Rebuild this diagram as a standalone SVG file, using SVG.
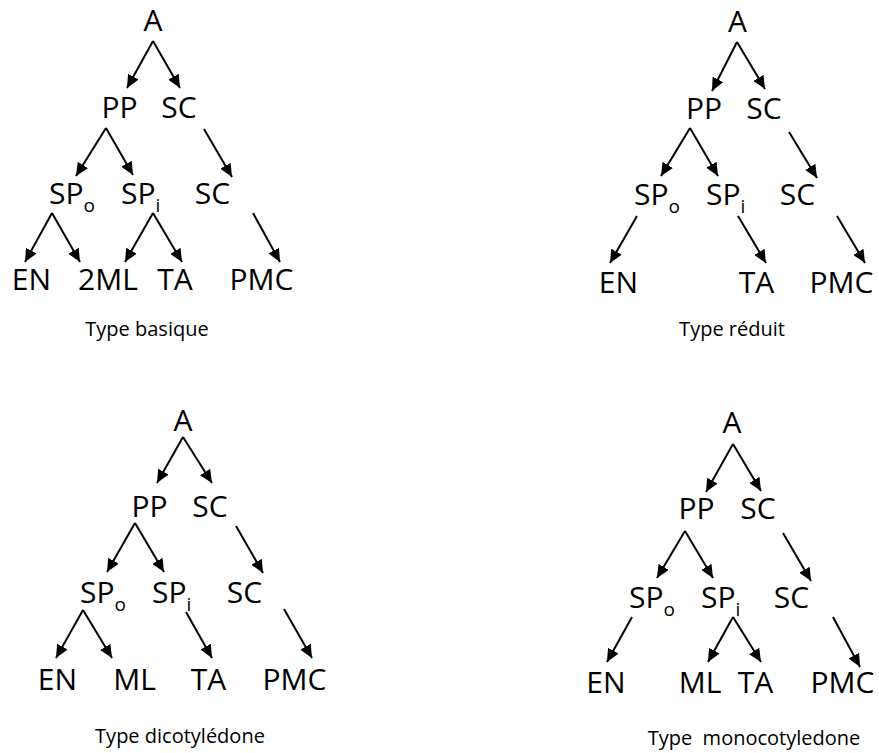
<svg xmlns="http://www.w3.org/2000/svg" width="879" height="753" viewBox="0 0 879 753">
<style>
.t{font-family:"Open Sans","Liberation Sans",sans-serif;font-size:30px;fill:#000}
.m{text-anchor:middle}
.s{font-size:19px}
.c{font-family:"Open Sans","Liberation Sans",sans-serif;font-size:20px;fill:#000;text-anchor:middle;white-space:pre}
.e{stroke:#000;stroke-width:2;fill:none;marker-end:url(#ah)}
</style>
<defs>
<marker id="ah" markerUnits="userSpaceOnUse" markerWidth="14" markerHeight="12" viewBox="0 0 14 12" refX="13" refY="6" orient="auto">
<path d="M0,0 L13,6 L0,12 Z" fill="#000"/>
</marker>
</defs>
<rect width="879" height="753" fill="#fff"/>

<g id="basique">
<g id="b-A"><text class="t m" x="153" y="31">A</text></g>
<g id="b-PP"><text class="t m" x="119.5" y="118">PP</text></g>
<g id="b-SC1"><text class="t m" x="179" y="118">SC</text></g>
<g id="b-SPo"><text class="t" x="49" y="204">SP<tspan class="s" dy="8">o</tspan></text></g>
<g id="b-SPi"><text class="t" x="121" y="204">SP<tspan class="s" dy="8">i</tspan></text></g>
<g id="b-SC2"><text class="t m" x="212.5" y="204">SC</text></g>
<g id="b-EN"><text class="t m" x="31.5" y="290">EN</text></g>
<g id="b-2ML"><text class="t m" x="108" y="290">2ML</text></g>
<g id="b-TA"><text class="t m" x="175" y="290">TA</text></g>
<g id="b-PMC"><text class="t m" x="261.5" y="290">PMC</text></g>
<g id="b-cap"><text class="c" x="147" y="336">Type basique</text></g>
</g>

<g id="reduit">
<g id="r-A"><text class="t m" x="737.5" y="32">A</text></g>
<g id="r-PP"><text class="t m" x="704" y="119">PP</text></g>
<g id="r-SC1"><text class="t m" x="764" y="119">SC</text></g>
<g id="r-SPo"><text class="t" x="634" y="205">SP<tspan class="s" dy="8">o</tspan></text></g>
<g id="r-SPi"><text class="t" x="706" y="205">SP<tspan class="s" dy="8">i</tspan></text></g>
<g id="r-SC2"><text class="t m" x="797.5" y="205">SC</text></g>
<g id="r-EN"><text class="t m" x="618.5" y="293">EN</text></g>
<g id="r-TA"><text class="t m" x="756.5" y="293">TA</text></g>
<g id="r-PMC"><text class="t m" x="841.5" y="293">PMC</text></g>
<g id="r-cap"><text class="c" x="732" y="336">Type réduit</text></g>
</g>

<g id="dicot">
<g id="d-A"><text class="t m" x="183" y="431">A</text></g>
<g id="d-PP"><text class="t m" x="149.5" y="517">PP</text></g>
<g id="d-SC1"><text class="t m" x="210" y="517">SC</text></g>
<g id="d-SPo"><text class="t" x="80" y="603">SP<tspan class="s" dy="8">o</tspan></text></g>
<g id="d-SPi"><text class="t" x="152" y="603">SP<tspan class="s" dy="8">i</tspan></text></g>
<g id="d-SC2"><text class="t m" x="244.5" y="603">SC</text></g>
<g id="d-EN"><text class="t m" x="57.5" y="690">EN</text></g>
<g id="d-ML"><text class="t m" x="134.5" y="690">ML</text></g>
<g id="d-TA"><text class="t m" x="208.5" y="690">TA</text></g>
<g id="d-PMC"><text class="t m" x="294.5" y="690">PMC</text></g>
<g id="d-cap"><text class="c" x="180" y="743">Type dicotylédone</text></g>
</g>

<g id="monocot">
<g id="m-A"><text class="t m" x="732" y="433">A</text></g>
<g id="m-PP"><text class="t m" x="696.5" y="519">PP</text></g>
<g id="m-SC1"><text class="t m" x="758" y="519">SC</text></g>
<g id="m-SPo"><text class="t" x="629" y="608">SP<tspan class="s" dy="8">o</tspan></text></g>
<g id="m-SPi"><text class="t" x="701" y="608">SP<tspan class="s" dy="8">i</tspan></text></g>
<g id="m-SC2"><text class="t m" x="791.5" y="608">SC</text></g>
<g id="m-EN"><text class="t m" x="606" y="693">EN</text></g>
<g id="m-ML"><text class="t m" x="700" y="693">ML</text></g>
<g id="m-TA"><text class="t m" x="755.5" y="693">TA</text></g>
<g id="m-PMC"><text class="t m" x="842.5" y="693">PMC</text></g>
<g id="m-cap"><text class="c" x="754" y="745" xml:space="preserve">Type  monocotyledone</text></g>
</g>

<g id="connectors">
<line class="e" x1="153" y1="41" x2="127" y2="88"/>
<line class="e" x1="153" y1="41" x2="180" y2="88"/>
<line class="e" x1="106" y1="128" x2="76" y2="176"/>
<line class="e" x1="106" y1="128" x2="133" y2="175"/>
<line class="e" x1="204" y1="129" x2="232" y2="177"/>
<line class="e" x1="52" y1="213" x2="25" y2="262"/>
<line class="e" x1="52" y1="213" x2="80" y2="262"/>
<line class="e" x1="153" y1="213" x2="125" y2="262"/>
<line class="e" x1="153" y1="213" x2="182" y2="262"/>
<line class="e" x1="253" y1="213" x2="280" y2="262"/>

<line class="e" x1="737" y1="42" x2="712" y2="91"/>
<line class="e" x1="737" y1="42" x2="765" y2="89"/>
<line class="e" x1="690" y1="128" x2="661" y2="176"/>
<line class="e" x1="690" y1="128" x2="718" y2="176"/>
<line class="e" x1="789" y1="132" x2="817" y2="178"/>
<line class="e" x1="637" y1="216" x2="610" y2="263"/>
<line class="e" x1="738" y1="216" x2="766" y2="263"/>
<line class="e" x1="837" y1="216" x2="865" y2="263"/>

<line class="e" x1="183" y1="437" x2="157" y2="483"/>
<line class="e" x1="183" y1="437" x2="212" y2="483"/>
<line class="e" x1="135" y1="523" x2="107" y2="572"/>
<line class="e" x1="135" y1="523" x2="164" y2="572"/>
<line class="e" x1="236" y1="526" x2="263" y2="573"/>
<line class="e" x1="83" y1="610" x2="56" y2="658"/>
<line class="e" x1="83" y1="610" x2="112" y2="658"/>
<line class="e" x1="186" y1="612" x2="212" y2="658"/>
<line class="e" x1="284" y1="609" x2="312" y2="658"/>

<line class="e" x1="733" y1="444" x2="706" y2="492"/>
<line class="e" x1="733" y1="444" x2="761" y2="491"/>
<line class="e" x1="685" y1="531" x2="657" y2="578"/>
<line class="e" x1="685" y1="531" x2="713" y2="578"/>
<line class="e" x1="783" y1="533" x2="811" y2="581"/>
<line class="e" x1="632" y1="617" x2="607" y2="662"/>
<line class="e" x1="733" y1="617" x2="708" y2="662"/>
<line class="e" x1="733" y1="617" x2="761" y2="662"/>
<line class="e" x1="833" y1="617" x2="860" y2="667"/>
</g>
</svg>
